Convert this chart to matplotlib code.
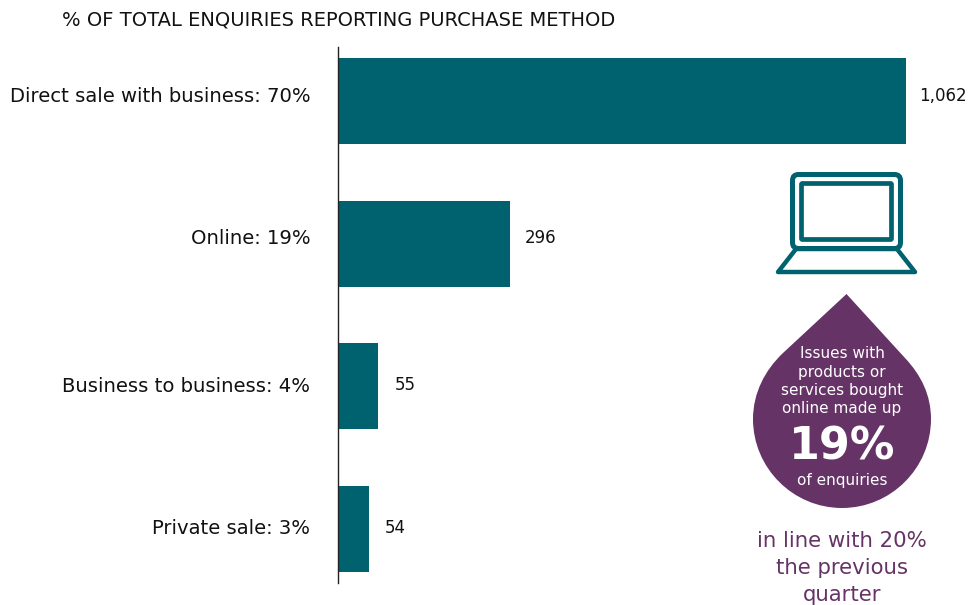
import matplotlib
matplotlib.use('Agg')
import matplotlib.pyplot as plt
from matplotlib.patches import PathPatch, FancyBboxPatch, Polygon
from matplotlib.path import Path

categories = ['Direct sale with business: 70%', 'Online: 19%', 'Business to business: 4%', 'Private sale: 3%']
# bar lengths as drawn (the small bars are not to scale with the labels in the original)
bar_lengths = [1062, 321, 75, 58]
value_labels = ['1,062', '296', '55', '54']

plt.rcParams['font.family'] = ['DejaVu Sans']

teal = '#00626f'
purple = '#663366'
W, H = 968, 605

fig = plt.figure(figsize=(W / 100, H / 100), dpi=100)
ax = fig.add_axes([338 / W, 1 - 583 / H, (968 - 338) / W, (583 - 47) / H])
ax.set_xlim(0, 630 * 1062 / 568)
ax.set_ylim(536, 0)

centers = [54, 197, 339, 482]
label_pos = [48, 190, 337, 480]
ax.barh(centers, bar_lengths, height=86, color=teal)
for y, n, lab, off in zip(label_pos, bar_lengths, value_labels, [24, 28, 31, 29]):
    ax.text(n + off, y + 1, lab, va='center', ha='left', fontsize=12, color='#111111')

ax.set_yticks(label_pos)
ax.set_yticklabels(categories, fontsize=14.1, color='#111111')
ax.tick_params(axis='y', length=0, pad=20)
ax.set_xticks([])
for s in ['top', 'right', 'bottom']:
    ax.spines[s].set_visible(False)
ax.spines['left'].set_linewidth(1)
ax.spines['left'].set_color('#222222')

# overlay in pixel coordinates for the title and the graphics
ov = fig.add_axes([0, 0, 1, 1])
ov.set_xlim(0, W)
ov.set_ylim(H, 0)
ov.axis('off')
ov.patch.set_alpha(0)

ov.text(62, 20, '% OF TOTAL ENQUIRIES REPORTING PURCHASE METHOD', fontsize=14, va='center', ha='left', color='#111111')

# laptop icon
ov.add_patch(FancyBboxPatch((792.5, 174.5), 108, 74, boxstyle='round,pad=0,rounding_size=6', fc='none', ec=teal, lw=3.6))
ov.add_patch(FancyBboxPatch((801.5, 183.5), 90, 56, boxstyle='round,pad=0,rounding_size=1', fc='none', ec=teal, lw=3.4))
ov.add_patch(Polygon([(796, 249), (778, 272), (915, 272), (897, 249)], closed=True, fc='none', ec=teal, lw=3.2, joinstyle='round'))

# drop
verts = [(846.5, 294), (783, 353),
         (765, 370), (753, 393), (753, 419),
         (753, 468), (793, 508), (842, 508),
         (891, 508), (931, 468), (931, 419),
         (931, 395), (921, 375), (905, 358),
         (846.5, 294)]
codes = [Path.MOVETO, Path.LINETO] + [Path.CURVE4] * 12 + [Path.LINETO]
ov.add_patch(PathPatch(Path(verts, codes), fc=purple, ec='none'))

drop_lines = ['Issues with', 'products or', 'services bought', 'online made up']
for y, t in zip([354, 372, 391, 409], drop_lines):
    ov.text(842, y, t, color='white', fontsize=11, ha='center', va='center')
ov.text(842, 447, '19%', color='white', fontsize=32, fontweight='bold', ha='center', va='center')
ov.text(842, 480, 'of enquiries', color='white', fontsize=11, ha='center', va='center')

for y, t in zip([541, 568, 595], ['in line with 20%', 'the previous', 'quarter']):
    ov.text(842, y, t, color=purple, fontsize=15.3, ha='center', va='center')

fig.savefig('out.png', dpi=100)
